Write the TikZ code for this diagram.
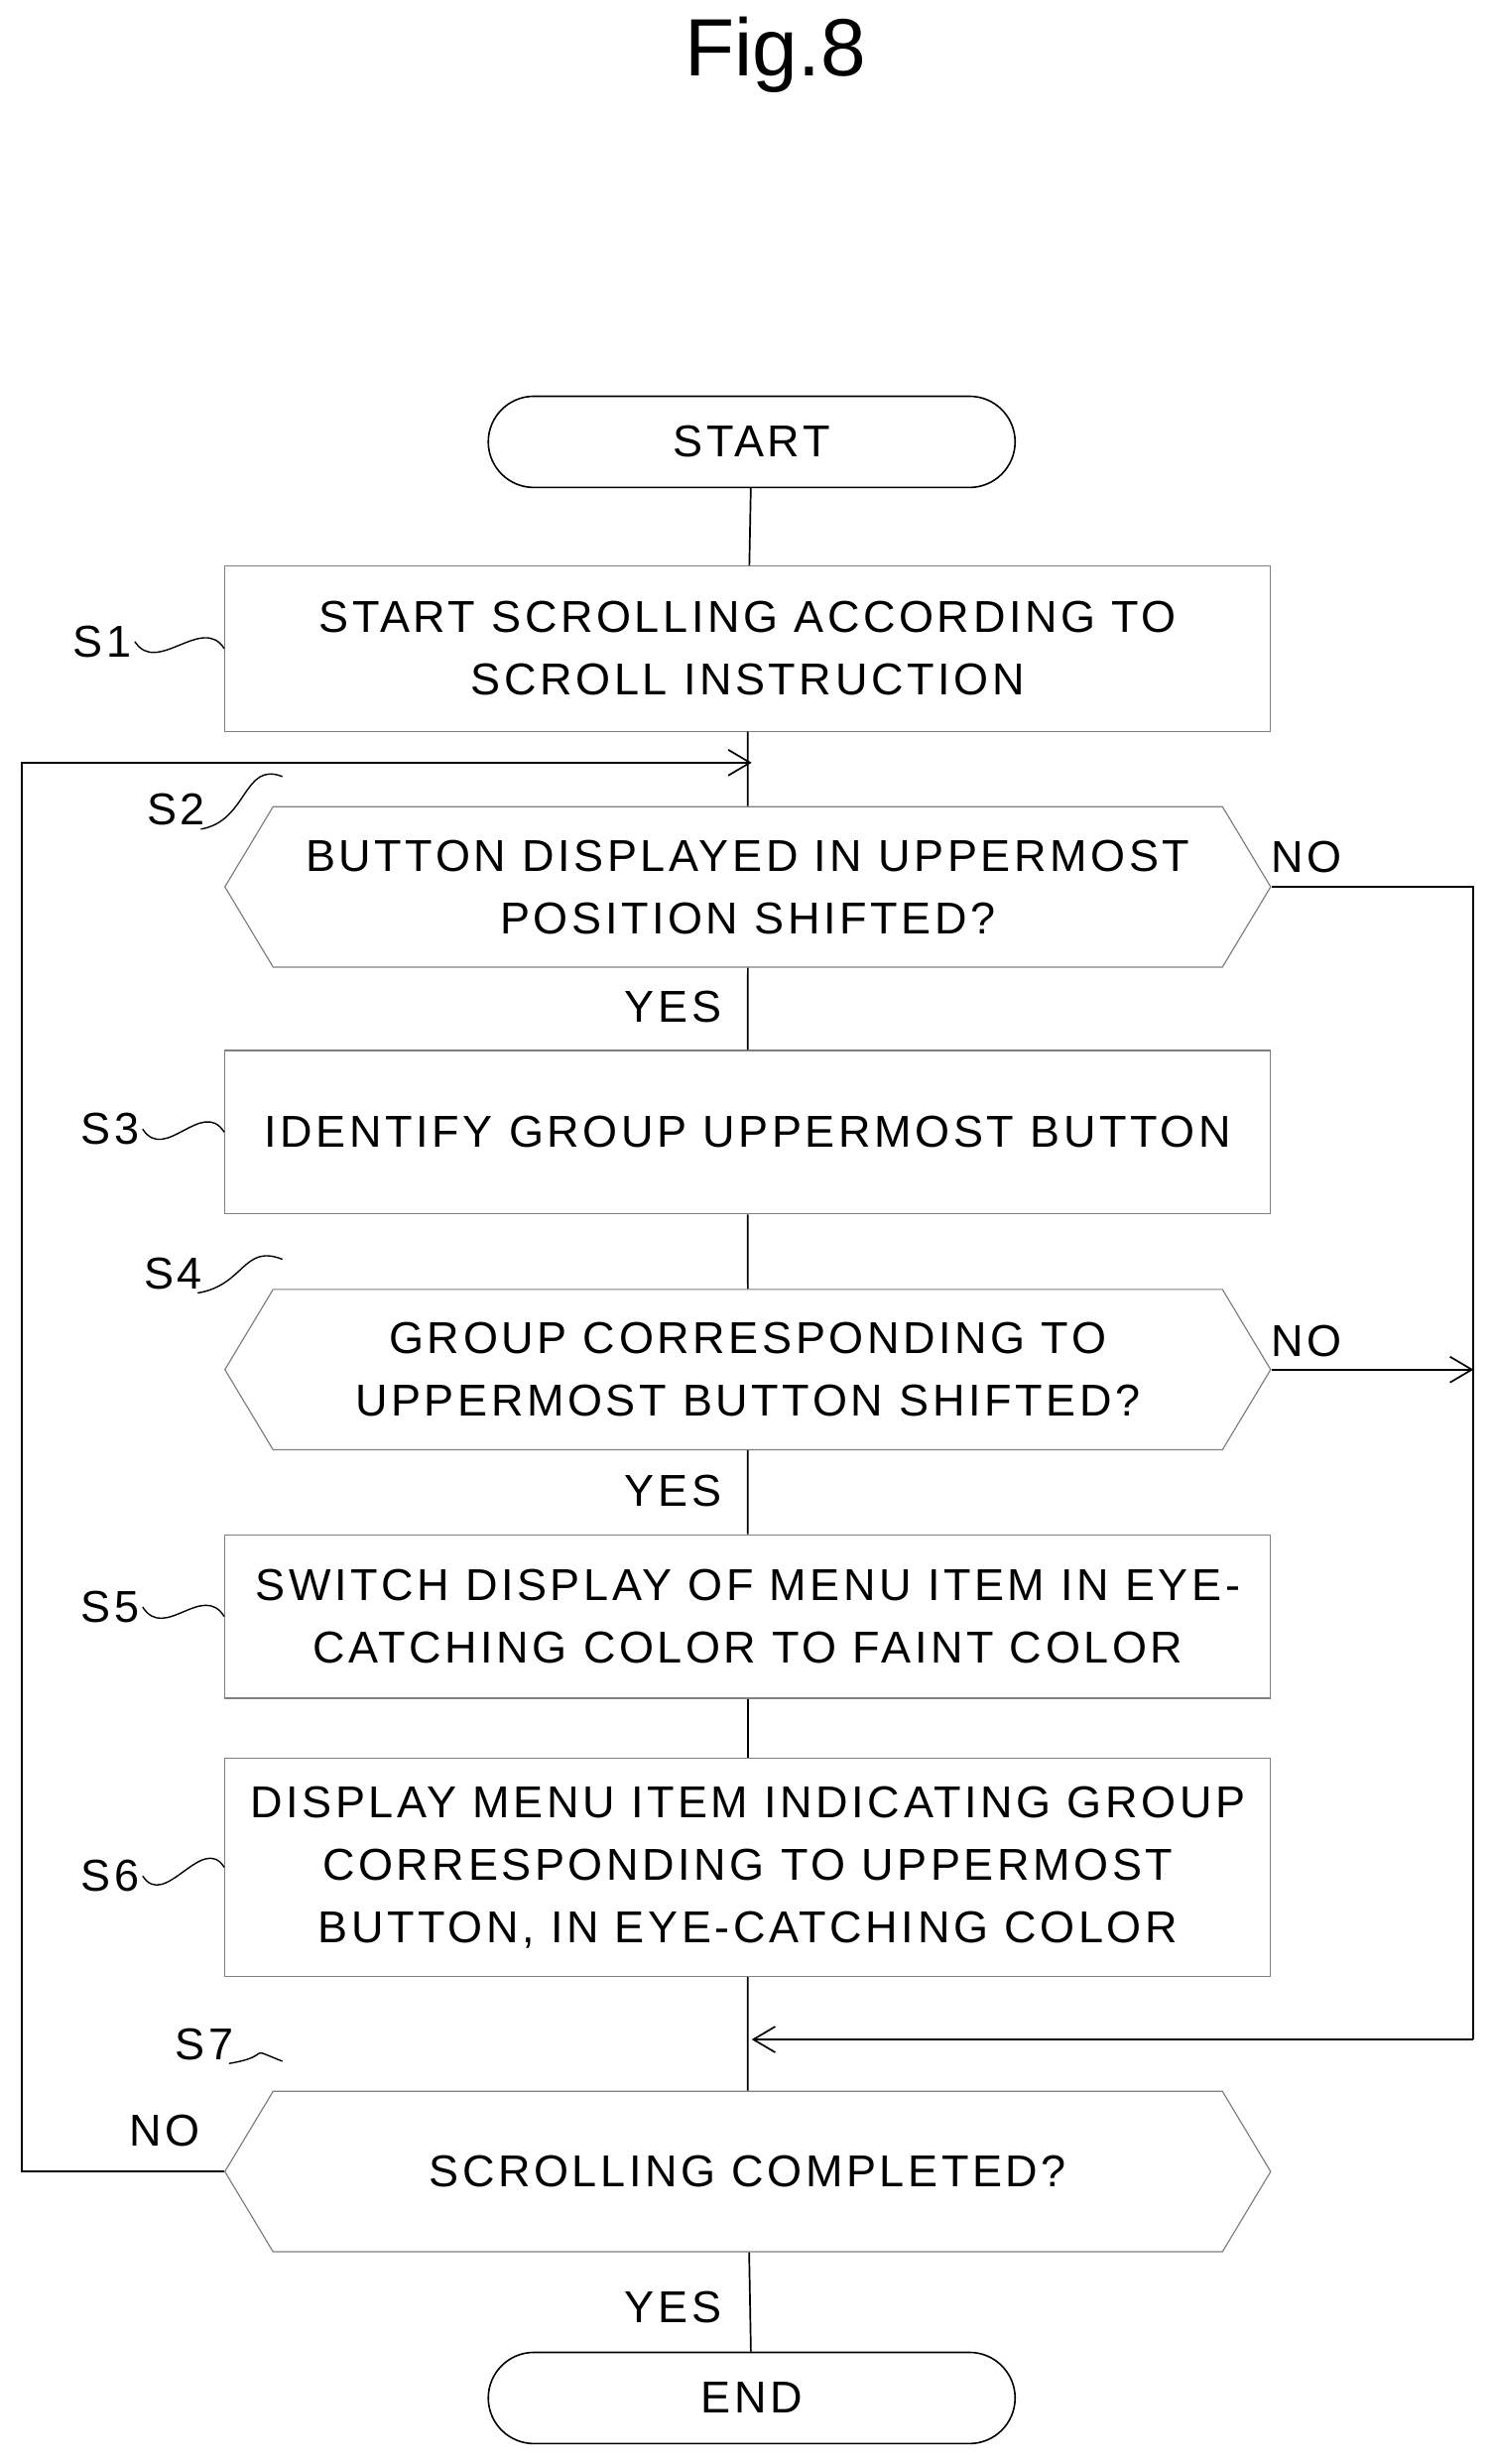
\documentclass[tikz,border=0pt]{standalone}
\usepackage{fontspec}
\setmainfont[LetterSpace=8]{Liberation Sans}
\newfontfamily\titlefont{Liberation Sans}
\usetikzlibrary{shapes.symbols,arrows.meta}
\begin{document}
\begin{tikzpicture}[x=1.585pt,y=-1.585pt,
  txt/.style={font=\fontsize{45}{63}\selectfont},
  proc/.style={txt,draw=gray,line width=1.2pt,minimum width=665*1.585pt,align=center,inner sep=0pt},
  dec/.style={txt,draw=gray,line width=1.2pt,shape=signal,signal to=east and west,signal pointer angle=118,minimum width=665*1.585pt,minimum height=102*1.585pt,align=center,inner sep=0pt},
  term/.style={txt,draw,line width=1.6pt,rounded corners=29*1.585pt,minimum width=335*1.585pt,minimum height=58*1.585pt},
  ln/.style={line width=1.7pt},
  arr/.style={ln,-{Straight Barb[length=22pt,width=26pt,line width=1.7pt]}},
  sq/.style={line width=1.4pt}]
\useasboundingbox (0,0) rectangle (950,1567);
\node[font=\titlefont\fontsize{82}{90}\selectfont] (title) at (493,35) {Fig.8};
\node[term] (start) at (478,281) {START};
\node[proc,minimum height=105*1.585pt] (s1) at (475.5,412.5) {START SCROLLING ACCORDING TO\\SCROLL INSTRUCTION};
\node[dec] (s2) at (475.5,564) {BUTTON DISPLAYED IN UPPERMOST\\POSITION SHIFTED?};
\node[proc,minimum height=104*1.585pt] (s3) at (475.5,720) {IDENTIFY GROUP UPPERMOST BUTTON};
\node[dec] (s4) at (475.5,871) {GROUP CORRESPONDING TO\\UPPERMOST BUTTON SHIFTED?};
\node[proc,minimum height=104*1.585pt] (s5) at (475.5,1028) {SWITCH DISPLAY OF MENU ITEM IN EYE-\\CATCHING COLOR TO FAINT COLOR};
\node[proc,minimum height=139*1.585pt] (s6) at (475.5,1187.5) {DISPLAY MENU ITEM INDICATING GROUP\\CORRESPONDING TO UPPERMOST\\BUTTON, IN EYE-CATCHING COLOR};
\node[dec] (s7) at (475.5,1381) {SCROLLING COMPLETED?};
\node[term] (end) at (478,1525) {END};
% labels
\node[txt] (y2) at (428,640) {YES};
\node[txt] (y4) at (428,948) {YES};
\node[txt] (y7) at (428,1467) {YES};
\node[txt] (n2) at (831,545) {NO};
\node[txt] (n4) at (831,853) {NO};
\node[txt] (n7) at (105,1355) {NO};
\node[txt] (l1) at (65,408) {S1};
\node[txt] (l2) at (112,515) {S2};
\node[txt] (l3) at (70,718) {S3};
\node[txt] (l4) at (110,810) {S4};
\node[txt] (l5) at (70,1022) {S5};
\node[txt] (l6) at (70,1193) {S6};
\node[txt] (l7) at (130,1300) {S7};
% squiggles
\draw[sq] (l1.east) .. controls +(14,22) and +(-14,-22) .. (s1.west);
\draw[sq] ([xshift=-8]l2.south east) .. controls +(30,-5) and +(-25,-10) .. ([xshift=10,yshift=30]s2.north west);
\draw[sq] (l3.east) .. controls +(14,22) and +(-14,-22) .. (s3.west);
\draw[sq] ([xshift=-8]l4.south east) .. controls +(30,-5) and +(-25,-10) .. ([xshift=10,yshift=30]s4.north west);
\draw[sq] (l5.east) .. controls +(14,22) and +(-14,-22) .. (s5.west);
\draw[sq] (l6.east) .. controls +(14,22) and +(-14,-22) .. (s6.west);
\draw[sq] ([xshift=-8]l7.south east) .. controls +(30,-5) and +(-25,-10) .. ([xshift=10,yshift=30]s7.north west);
% connectors
\coordinate (j1) at (478,485);
\coordinate (j2) at (478,1297);
\draw[ln] (start) -- (s1);
\draw[ln] (s1) -- (s2);
\draw[ln] (s2) -- (s3);
\draw[ln] (s3) -- (s4);
\draw[ln] (s4) -- (s5);
\draw[ln] (s5) -- (s6);
\draw[ln] (s6) -- (s7);
\draw[ln] (s7) -- (end);
\draw[arr] (s7.west) -- (14,1381) -- (14,485) -- (j1);
\draw[ln] (s2.east) -- (937,564) -- (937,1297);
\draw[arr] (937,1297) -- (j2);
\draw[arr] (s4.east) -- (937,871);
\end{tikzpicture}
\end{document}
